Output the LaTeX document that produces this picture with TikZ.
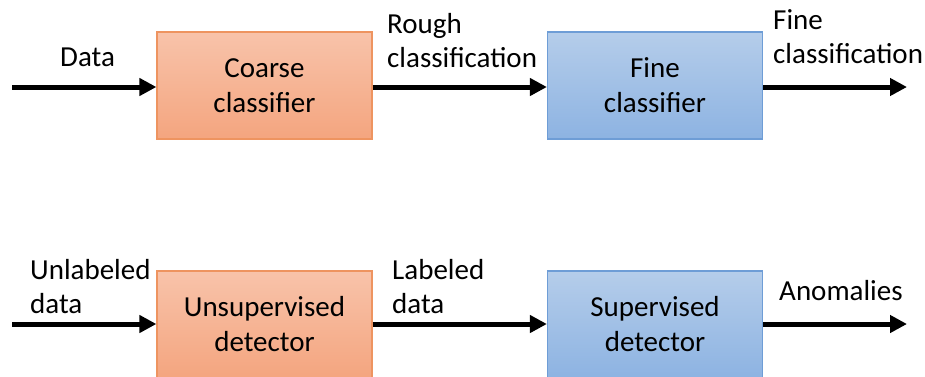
\documentclass[tikz,border=0pt]{standalone}
\usepackage{fontspec}
\setmainfont{Carlito}
\usetikzlibrary{arrows.meta}
\definecolor{orTop}{HTML}{F8C3AA}
\definecolor{orBot}{HTML}{F4A57F}
\definecolor{orLine}{HTML}{EE9460}
\definecolor{blTop}{HTML}{B5CDEA}
\definecolor{blBot}{HTML}{8DB3E2}
\definecolor{blLine}{HTML}{6E9DD6}
\tikzset{
  box/.style={rectangle, minimum width=215pt, minimum height=107pt, inner sep=0pt,
    line width=1.2pt, align=center, font=\fontsize{29}{35}\selectfont},
  orangebox/.style={box, draw=orLine, top color=orTop, bottom color=orBot},
  bluebox/.style={box, draw=blLine, top color=blTop, bottom color=blBot},
  lbl/.style={anchor=base west, inner sep=0pt, align=left, font=\fontsize{29}{34}\selectfont},
  arr/.style={line width=5pt, -{Triangle[length=17pt,width=17pt]}}
}
\begin{document}
\begin{tikzpicture}[x=1pt,y=-1pt]
\useasboundingbox (0,0) rectangle (925,376);
% top row
\node[orangebox] (coarse) at (264.5,85.5) {Coarse\\classifier};
\node[bluebox] (fine) at (655,85.5) {Fine\\classifier};
\coordinate (in1) at (12,87);
\coordinate (out1) at (907,87);
\draw[arr] (in1) -- (coarse.west |- in1);
\draw[arr] (coarse.east |- in1) -- (fine.west |- in1);
\draw[arr] (fine.east |- in1) -- (out1);
\node[lbl] (ldata) at (60,66) {Data};
\node[lbl] (lrough) at (387,67) {Rough\\classification};
\node[lbl] (lfine) at (773,63) {Fine\\classification};
% bottom row
\node[orangebox] (unsup) at (264.5,324.5) {Unsupervised\\detector};
\node[bluebox] (sup) at (655,324.5) {Supervised\\detector};
\coordinate (in2) at (12,324);
\coordinate (out2) at (907,324);
\draw[arr] (in2) -- (unsup.west |- in2);
\draw[arr] (unsup.east |- in2) -- (sup.west |- in2);
\draw[arr] (sup.east |- in2) -- (out2);
\node[lbl] (lunl) at (30,313) {Unlabeled\\data};
\node[lbl] (llab) at (392,313) {Labeled\\data};
\node[lbl] (lanom) at (779,300) {Anomalies};
\end{tikzpicture}
\end{document}
